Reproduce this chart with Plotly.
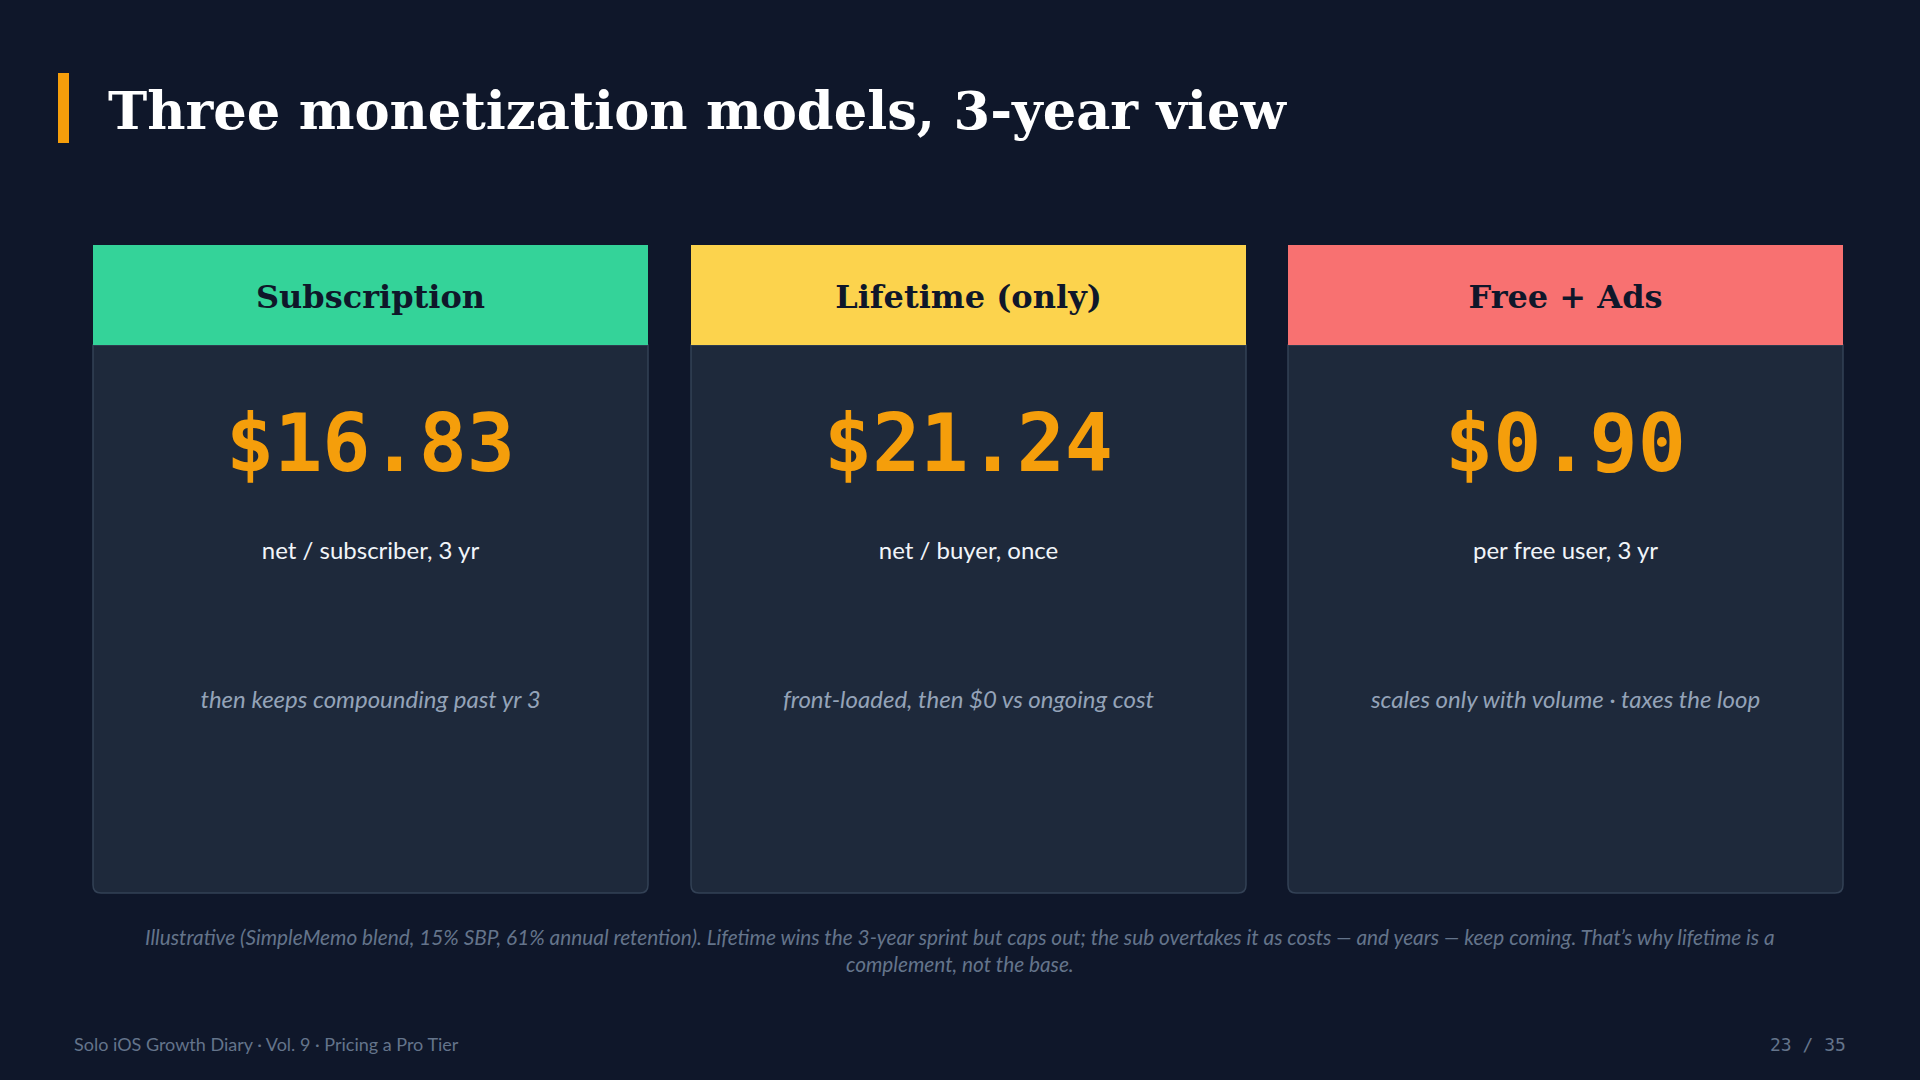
import plotly.graph_objects as go

# card content
models = ['Subscription', 'Lifetime (only)', 'Free + Ads']
values = ['$16.83', '$21.24', '$0.90']
units = ['net / subscriber, 3 yr', 'net / buyer, once', 'per free user, 3 yr']
notes = ['then keeps compounding past yr 3',
         'front-loaded, then $0 vs ongoing cost',
         'scales only with volume \u00b7 taxes the loop']
header_colors = ['#34d399', '#fcd34d', '#f87171']

title = 'Three monetization models, 3-year view'
footnote = ('Illustrative (SimpleMemo blend, 15% SBP, 61% annual retention). Lifetime wins the 3-year sprint '
            'but caps out; the sub overtakes it as costs \u2014 and years \u2014 keep coming. That\u2019s why lifetime is a'
            '<br>complement, not the base.')
footer_left = 'Solo iOS Growth Diary \u00b7 Vol. 9 \u00b7 Pricing a Pro Tier'
footer_right = '23 / 35'

BG = '#0f172a'
CARD = '#1e293b'
BORDER = '#334155'
AMBER = '#f59e0b'

W, H = 1920, 1080
card_x0 = [93, 691, 1288]
card_w = 555
card_top, head_bot, card_bot = 245, 345, 893

fig = go.Figure()

shapes = []
for i, x0 in enumerate(card_x0):
    x1 = x0 + card_w
    r = 8
    # body with rounded bottom corners
    path = (f'M {x0},{head_bot} L {x0},{card_bot - r} Q {x0},{card_bot} {x0 + r},{card_bot} '
            f'L {x1 - r},{card_bot} Q {x1},{card_bot} {x1},{card_bot - r} L {x1},{head_bot} Z')
    shapes.append(dict(type='path', path=path, fillcolor=CARD,
                       line=dict(color=BORDER, width=1.5), layer='below'))
    shapes.append(dict(type='rect', x0=x0, x1=x1, y0=card_top, y1=head_bot,
                       fillcolor=header_colors[i], line=dict(width=0), layer='below'))

# accent bar next to the title
shapes.append(dict(type='rect', x0=58, x1=69, y0=73, y1=143,
                   fillcolor=AMBER, line=dict(width=0), layer='below'))

centers = [x0 + card_w / 2 for x0 in card_x0]

fig.add_trace(go.Scatter(
    x=centers, y=[300] * 3, mode='text', text=models,
    textfont=dict(family='DejaVu Serif', size=32, color=BG, weight='bold'),
    hoverinfo='skip'))
fig.add_trace(go.Scatter(
    x=centers, y=[451] * 3, mode='text', text=values,
    textfont=dict(family='DejaVu Sans Mono', size=80, color=AMBER, weight='bold'),
    hoverinfo='skip'))
fig.add_trace(go.Scatter(
    x=centers, y=[553] * 3, mode='text', text=units,
    textfont=dict(family='Lato', size=24, color='#f1f5f9'),
    hoverinfo='skip'))
fig.add_trace(go.Scatter(
    x=centers, y=[702] * 3, mode='text', text=notes,
    textfont=dict(family='Lato', size=24, color='#94a3b8', style='italic'),
    hoverinfo='skip'))

annotations = [
    dict(x=106, y=110, text=f'<b>{title}</b>', showarrow=False, xanchor='left', yanchor='middle',
         font=dict(family='DejaVu Serif', size=52.7, color='#ffffff')),
    dict(x=960, y=950, text=f'<i>{footnote}</i>', showarrow=False, xanchor='center', yanchor='middle',
         align='center', font=dict(family='Lato', size=20.8, color='#64748b')),
    dict(x=72, y=1044, text=footer_left, showarrow=False, xanchor='left', yanchor='middle',
         font=dict(family='Lato', size=18, color='#64748b')),
    dict(x=1848, y=1044, text=footer_right, showarrow=False, xanchor='right', yanchor='middle',
         font=dict(family='DejaVu Sans Mono', size=18, color='#64748b')),
]

fig.update_layout(
    width=W, height=H,
    margin=dict(l=0, r=0, t=0, b=0),
    paper_bgcolor=BG, plot_bgcolor=BG,
    showlegend=False,
    xaxis=dict(range=[0, W], visible=False, fixedrange=True),
    yaxis=dict(range=[H, 0], visible=False, fixedrange=True),
    shapes=shapes,
    annotations=annotations,
)

fig.write_html('out.html', config={'displayModeBar': False},
               post_script="document.body.style.margin='0';document.body.style.background='#0f172a';")
